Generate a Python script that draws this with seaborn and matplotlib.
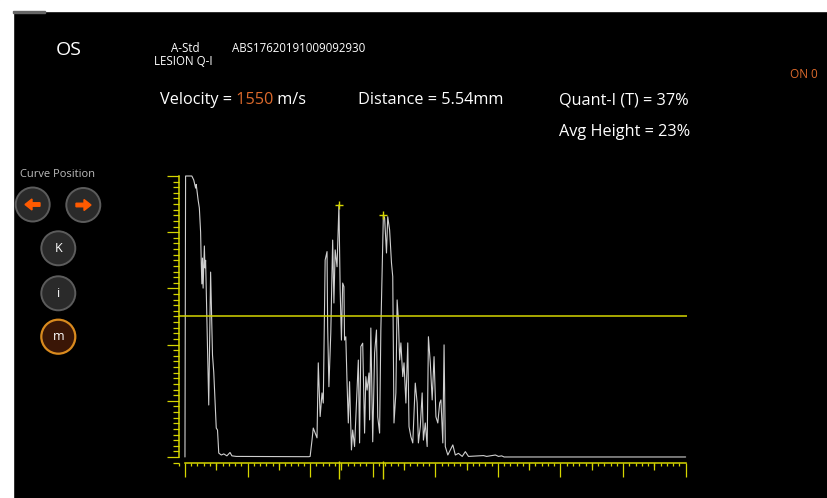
import numpy as np
import pandas as pd
import seaborn as sns
import matplotlib.pyplot as plt
from matplotlib.patches import Circle, Rectangle
from matplotlib.ticker import MultipleLocator, NullFormatter

sns.set_style('dark', {'axes.facecolor': 'black', 'figure.facecolor': 'black'})
plt.rcParams['font.family'] = ['Open Sans', 'DejaVu Sans']

# A-scan trace: sample index vs amplitude (%)
sample = [0, 1, 11, 14, 17, 18, 21, 23, 25, 26,
          27, 28, 29, 31, 32, 33, 38, 41, 44, 46,
          50, 52, 54, 58, 62, 67, 72, 75, 82, 198,
          200, 203, 205, 208, 211, 213, 216, 219, 221, 224,
          227, 228, 230, 233, 236, 238, 240, 243, 246, 248,
          250, 252, 254, 255, 257, 259, 261, 263, 266, 268,
          271, 275, 277, 279, 281, 284, 287, 289, 291, 294,
          295, 297, 300, 303, 306, 308, 311, 313, 317, 319,
          322, 324, 327, 330, 332, 334, 337, 339, 341, 343,
          345, 348, 350, 353, 356, 358, 361, 364, 368, 371,
          373, 376, 379, 381, 384, 387, 389, 392, 395, 398,
          401, 404, 407, 409, 412, 414, 416, 420, 424, 428,
          432, 437, 443, 448, 453, 477, 482, 496, 501, 506,
          510, 800]
amplitude = [0, 100, 100, 98.6, 95.7, 97, 91.5, 88.6, 80, 69.4,
             61.6, 70.8, 60.1, 75.1, 67.3, 70, 18.5, 65.8, 36.3, 30.2,
             10.3, 9.6, 1.4, 0.7, 1.1, 0.4, 1.6, 0.4, 0.2, 0.1,
             0.2, 6, 10.3, 8.5, 6.8, 33.5, 14.4, 22.8, 19.2, 70.1,
             73.1, 46.4, 25, 44.1, 77.2, 54.8, 73.7, 67.7, 89.7, 59.4,
             41.6, 61.9, 60.6, 41.6, 42.8, 26.3, 12.1, 26.8, 2.5, 9.6,
             3.7, 23.8, 34.5, 5, 39.3, 40.5, 8.5, 28.6, 23.8, 29.9,
             13.2, 45.9, 5.4, 37, 45.2, 14.3, 8.5, 45.2, 86.1, 85.1,
             72.6, 85.5, 80.8, 69, 64.2, 12.1, 22.8, 55.9, 48.8, 34.5,
             40.6, 28.6, 33.5, 19.2, 40.6, 10.8, 7.2, 5, 26.3, 19.2,
             5, 10.8, 22.8, 6, 12.1, 3.7, 42.8, 33.5, 20.3, 35.7,
             14.3, 12.1, 19.2, 20.3, 5, 39.9, 3.7, 0.7, 2.5, 4.3,
             0.7, 1.3, 0.2, 1.9, 0.2, 0.5, 0.2, 0.7, 0.2, 0.4,
             0, 0]
peak_sample = [246, 317]
gate_level = 50

velocity = '1550'
distance = '5.54mm'
quant = '37%'
avg_height = '23%'

yellow = '#d6d600'
orange = '#dd6a2c'
trace_col = '#cfcfcf'

df = pd.DataFrame({'sample': sample, 'amplitude': amplitude})
peaks = df[df['sample'].isin(peak_sample)]

W, H = 827, 498
fig = plt.figure(figsize=(W / 100, H / 100), dpi=100)

# pixel-space layer for the screen furniture
bg = fig.add_axes([0, 0, 1, 1])
bg.set_xlim(0, W)
bg.set_ylim(H, 0)
bg.axis('off')
bg.add_patch(Rectangle((0, 0), W, 11, color='white'))
bg.add_patch(Rectangle((0, 0), 13, H, color='white'))
bg.add_patch(Rectangle((13, 11), 32, 2, color='#666666'))

bg.text(69, 55, 'OS', color='white', fontsize=14, ha='center', va='baseline')
bg.text(185, 51.7, 'A-Std', color='white', fontsize=8.3, ha='center', va='baseline')
bg.text(183, 65, 'LESION Q-I', color='white', fontsize=8.3, ha='center', va='baseline')
bg.text(232, 51.7, 'ABS17620191009092930', color='white', fontsize=8.3, ha='left', va='baseline')

fs = 11.7
t1 = bg.text(159.6, 104.3, 'Velocity =', color='white', fontsize=fs, va='baseline')
t2 = bg.annotate(' ' + velocity, xy=(1, 0), xycoords=t1, color=orange, fontsize=fs, va='bottom')
bg.annotate(' m/s', xy=(1, 0), xycoords=t2, color='white', fontsize=fs, va='bottom')
bg.text(357.9, 104.3, 'Distance = ' + distance, color='white', fontsize=fs, va='baseline')
bg.text(558.6, 104.3, 'Quant-I (T) = ' + quant, color='white', fontsize=fs, va='baseline')
bg.text(558.6, 136, 'Avg Height = ' + avg_height, color='white', fontsize=fs, va='baseline')
bg.text(817.3, 78.3, 'ON 0', color=orange, fontsize=8.5, ha='right', va='baseline')

bg.text(58, 177.3, 'Curve Position', color='#bdbdbd', fontsize=8, ha='center', va='baseline')
for cx, cy in [(32.7, 204.5), (83.3, 205), (58.3, 248.3), (58.3, 293.3)]:
    bg.add_patch(Circle((cx, cy), 17, facecolor='#2a2a2a', edgecolor='#5c5c5c', lw=1.4))
bg.add_patch(Circle((58.3, 336.7), 17, facecolor='#3a1606', edgecolor='#d98a1e', lw=1.6))
bg.arrow(40, 204.5, -15, 0, width=3.5, head_width=11, head_length=7,
         length_includes_head=True, color='#ff5a00')
bg.arrow(76, 205, 15, 0, width=3.5, head_width=11, head_length=7,
         length_includes_head=True, color='#ff5a00')
for lab, cy in [('K', 248.3), ('i', 293.3), ('m', 336.7)]:
    bg.text(58.3, cy, lab, color='white', fontsize=9, ha='center', va='center')

# A-scan axes
ax = fig.add_axes([178.7 / W, 1 - 462.6 / H, 508.2 / W, 289.4 / H])
ax.set_facecolor('black')
sns.lineplot(data=df, x='sample', y='amplitude', ax=ax, color=trace_col,
             lw=0.8, estimator=None, sort=False)
sns.scatterplot(data=peaks, x='sample', y='amplitude', ax=ax, marker='+',
                color=yellow, s=30, linewidth=1, zorder=5)
ax.axhline(gate_level, color=yellow, lw=1.1)

ax.set_xlim(-10, 802)
ax.set_ylim(-2, 101)
ax.set_xlabel('')
ax.set_ylabel('')
for side in ['top', 'right']:
    ax.spines[side].set_visible(False)
for side in ['left', 'bottom']:
    ax.spines[side].set_visible(True)
    ax.spines[side].set_color(yellow)
    ax.spines[side].set_linewidth(1.1)
ax.spines['left'].set_bounds(0, 100)
ax.spines['bottom'].set_bounds(0, 800)

ax.xaxis.set_major_locator(MultipleLocator(100))
ax.xaxis.set_minor_locator(MultipleLocator(10))
ax.yaxis.set_major_locator(MultipleLocator(20))
ax.yaxis.set_minor_locator(MultipleLocator(2))
ax.xaxis.set_major_formatter(NullFormatter())
ax.yaxis.set_major_formatter(NullFormatter())
ax.tick_params(axis='both', which='both', bottom=True, left=True, direction='out',
               color=yellow, width=0.9)
ax.tick_params(axis='x', which='major', length=10)
ax.tick_params(axis='x', which='minor', length=2.5)
ax.tick_params(axis='y', which='major', length=8.4)
ax.tick_params(axis='y', which='minor', length=4.1)

# half-division ticks and peak cursors below the sample axis
tr = ax.get_xaxis_transform()
ax.vlines(np.arange(50, 800, 100), 0, -0.024, transform=tr, color=yellow, lw=0.9, clip_on=False)
ax.vlines(peak_sample, 0.006, -0.055, transform=tr, color=yellow, lw=1, clip_on=False)

fig.savefig('out.png', dpi=100, facecolor='black')
